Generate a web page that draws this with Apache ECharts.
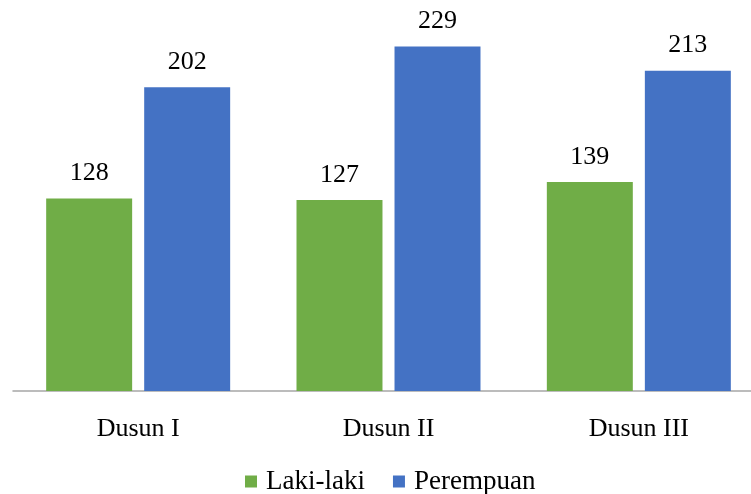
<!DOCTYPE html>
<html>
<head>
<meta charset="utf-8">
<script src="https://cdn.jsdelivr.net/npm/echarts@6/dist/echarts.min.js"></script>
<style>
  html, body { margin: 0; padding: 0; background: #fff; }
  #chart { width: 751px; height: 494px; }
</style>
</head>
<body>
<div id="chart"></div>
<script>
// Population by hamlet and sex
const categories = ['Dusun I', 'Dusun II', 'Dusun III'];
const lakiLaki = [128, 127, 139];
const perempuan = [202, 229, 213];
const seriesNames = ['Laki-laki', 'Perempuan'];

const FONT = '"Liberation Serif", "DejaVu Serif", serif';
const labelStyle = {
  show: true,
  position: 'top',
  distance: 12,
  color: '#000',
  fontFamily: FONT,
  fontSize: 26
};

const chart = echarts.init(document.getElementById('chart'), null, { renderer: 'canvas' });
chart.setOption({
  animation: false,
  grid: {
    left: 13, width: 751, top: 15, height: 376,
    containLabel: false,
    outerBoundsMode: 'none'
  },
  legend: {
    data: seriesNames,
    top: 468,
    left: 245,
    padding: 0,
    icon: 'rect',
    itemWidth: 12,
    itemHeight: 12,
    itemGap: 28,
    textStyle: { fontFamily: FONT, fontSize: 27, color: '#000', padding: [0, 0, 0, 4] }
  },
  xAxis: {
    type: 'category',
    data: categories,
    axisLine: { lineStyle: { color: '#a6a6a6', width: 1.5 } },
    axisTick: { show: false },
    axisLabel: { margin: 25, color: '#000', fontFamily: FONT, fontSize: 26 }
  },
  yAxis: {
    type: 'value',
    min: 0,
    max: 250,
    show: false,
    splitLine: { show: false }
  },
  series: [
    {
      name: seriesNames[0],
      type: 'bar',
      data: lakiLaki,
      barGap: '14%',
      barCategoryGap: '26.5%',
      itemStyle: { color: '#70AD47' },
      label: labelStyle
    },
    {
      name: seriesNames[1],
      type: 'bar',
      data: perempuan,
      itemStyle: { color: '#4472C4' },
      label: labelStyle
    }
  ]
});
</script>
</body>
</html>
